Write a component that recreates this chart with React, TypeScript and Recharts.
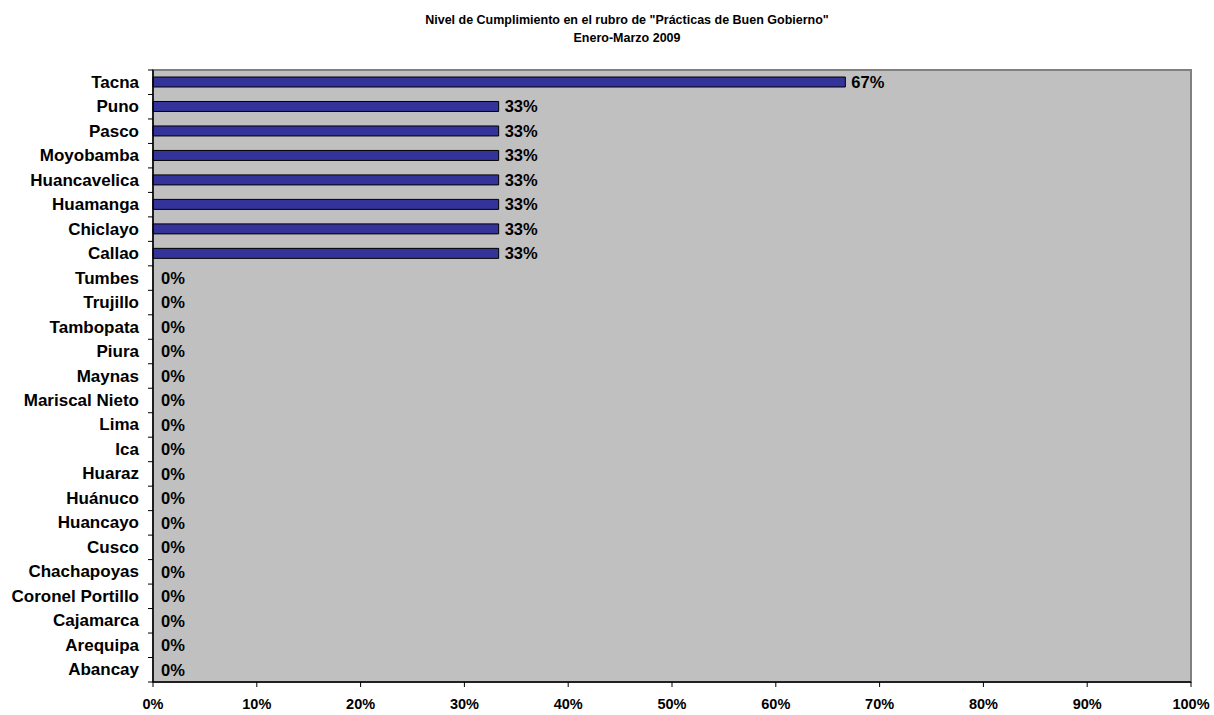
import { BarChart, Bar, XAxis, YAxis, CartesianGrid, LabelList, ReferenceArea, Rectangle } from 'recharts';

const ciudades = [
  'Tacna', 'Puno', 'Pasco', 'Moyobamba', 'Huancavelica', 'Huamanga', 'Chiclayo', 'Callao',
  'Tumbes', 'Trujillo', 'Tambopata', 'Piura', 'Maynas', 'Mariscal Nieto', 'Lima', 'Ica',
  'Huaraz', 'Huánuco', 'Huancayo', 'Cusco', 'Chachapoyas', 'Coronel Portillo', 'Cajamarca',
  'Arequipa', 'Abancay',
];

const cumplimiento = [
  66.7, 33.3, 33.3, 33.3, 33.3, 33.3, 33.3, 33.3,
  0, 0, 0, 0, 0, 0, 0, 0,
  0, 0, 0, 0, 0, 0, 0,
  0, 0,
];

const ticksX = [0, 10, 20, 30, 40, 50, 60, 70, 80, 90, 100];

const titulo = 'Nivel de Cumplimiento en el rubro de "Prácticas de Buen Gobierno"';
const subtitulo = 'Enero-Marzo 2009';

const data = ciudades.map((c, i) => ({ ciudad: c, valor: cumplimiento[i] }));

const FONT = 'Arial, "Liberation Sans", Helvetica, sans-serif';
const BAND = (682 - 70) / ciudades.length;

const CityTick = (props: any) => {
  const { y, payload, index } = props;
  const ax = 153;
  return (
    <g>
      <line x1={ax - 5} x2={ax} y1={y - BAND / 2} y2={y - BAND / 2} stroke="#000" />
      {index === ciudades.length - 1 && (
        <line x1={ax - 5} x2={ax} y1={y + BAND / 2} y2={y + BAND / 2} stroke="#000" />
      )}
      <text
        x={139}
        y={y}
        textAnchor="end"
        dominantBaseline="central"
        fontSize={17}
        fontWeight={700}
        fontFamily={FONT}
        fill="#000"
      >
        {payload.value}
      </text>
    </g>
  );
};

// zero rows get a 1px placeholder bar (so the label is kept) that is not drawn
const BarShape = (props: any) => {
  if (!props.payload || props.payload.valor === 0) return <g />;
  return <Rectangle {...props} />;
};

const renderValor = (p: any) => {
  const cero = Number(p.value) === 0;
  const x = Number(p.x) + (cero ? 8 : (Number(p.width) || 0) + 6);
  const y = Number(p.y) + Number(p.height) / 2;
  return (
    <text
      x={x}
      y={y}
      dominantBaseline="central"
      fontSize={16.5}
      fontWeight={700}
      fontFamily={FONT}
      fill="#000"
    >
      {`${Math.round(Number(p.value))}%`}
    </text>
  );
};

export default function App() {
  return (
    <div style={{ position: 'absolute', left: 0, top: 0, width: 1214, height: 715, background: '#fff' }}>
      <svg width={1214} height={60} style={{ position: 'absolute', left: 0, top: 0 }}>
        <text x={627} y={24} textAnchor="middle" fontSize={12.5} fontWeight={700} fontFamily={FONT}>
          {titulo}
        </text>
        <text x={627} y={42} textAnchor="middle" fontSize={12.5} fontWeight={700} fontFamily={FONT}>
          {subtitulo}
        </text>
      </svg>
      <div style={{ position: 'absolute', left: 0, top: 0 }}>
        <BarChart
          width={1214}
          height={715}
          data={data}
          layout="vertical"
          margin={{ top: 70, right: 23, bottom: 0, left: 0 }}
          barCategoryGap={0}
        >
          <CartesianGrid horizontal={false} vertical={false} fill="#c0c0c0" />
          <ReferenceArea x1={0} x2={100} stroke="#808080" strokeWidth={2} fill="#c0c0c0" fillOpacity={1} />
          <XAxis
            type="number"
            domain={[0, 100]}
            ticks={ticksX}
            interval={0}
            height={33}
            tickSize={5}
            tickMargin={12}
            tickFormatter={(v: number) => `${v}%`}
            axisLine={{ stroke: '#000', strokeWidth: 1.5 }}
            tickLine={{ stroke: '#000' }}
            tick={{ fontSize: 14.5, fontWeight: 700, fill: '#000', fontFamily: FONT }}
          />
          <YAxis
            type="category"
            dataKey="ciudad"
            width={153}
            interval={0}
            tickLine={false}
            axisLine={{ stroke: '#000', strokeWidth: 1.5 }}
            tick={<CityTick />}
          />
          <Bar
            dataKey="valor"
            fill="#333399"
            stroke="#000"
            strokeWidth={1}
            barSize={10}
            minPointSize={1}
            shape={<BarShape />}
            isAnimationActive={false}
          >
            <LabelList dataKey="valor" content={renderValor} />
          </Bar>
        </BarChart>
      </div>
    </div>
  );
}
